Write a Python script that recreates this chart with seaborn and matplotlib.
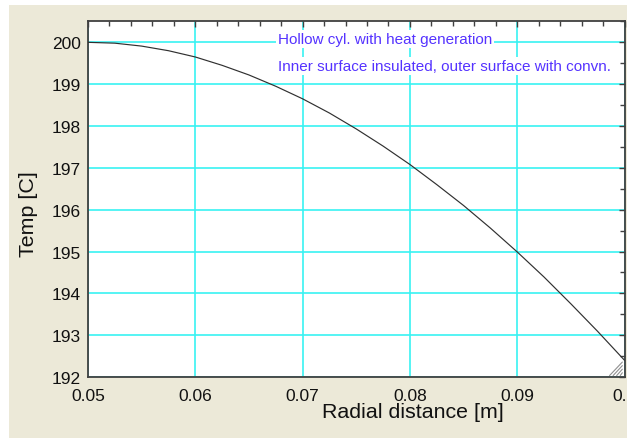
import matplotlib
matplotlib.use("Agg")
import matplotlib.pyplot as plt
from matplotlib.patches import Rectangle
from matplotlib.ticker import MultipleLocator
import seaborn as sns
import pandas as pd

radius = [0.05, 0.0525, 0.055, 0.0575, 0.06, 0.0625, 0.065, 0.0675, 0.07,
          0.0725, 0.075, 0.0775, 0.08, 0.0825, 0.085, 0.0875, 0.09,
          0.0925, 0.095, 0.0975, 0.1]
temp = [200.00, 199.98, 199.91, 199.80, 199.65, 199.45, 199.22, 198.95, 198.65,
        198.31, 197.93, 197.52, 197.08, 196.60, 196.10, 195.56, 194.99,
        194.39, 193.75, 193.09, 192.40]
xticks = [0.05, 0.06, 0.07, 0.08, 0.09, 0.1]
xticklabels = ["0.05", "0.06", "0.07", "0.08", "0.09", "0.1"]
yticks = [192, 193, 194, 195, 196, 197, 198, 199, 200]
note1 = "Hollow cyl. with heat generation"
note2 = "Inner surface insulated, outer surface with convn."

df = pd.DataFrame({"r": radius, "T": temp})

sns.set_style("white")
plt.rcParams["font.family"] = ["Liberation Sans", "DejaVu Sans"]

W, H = 627, 439
fig = plt.figure(figsize=(W / 100, H / 100), dpi=100, facecolor="white")
fig.patches.append(Rectangle((8.5 / W, 0), 1, 1 - 5.5 / H, transform=fig.transFigure,
                             facecolor="#ECE9D8", edgecolor="none", zorder=-10))
ax = fig.add_axes([88 / W, 1 - 378 / H, (624.5 - 88) / W, (378 - 22) / H])
ax.set_facecolor("white")

sns.lineplot(data=df, x="r", y="T", ax=ax, color="#303030", lw=0.85, zorder=3)

ax.set_xlim(0.05, 0.1)
ax.set_ylim(192, 200.51)
ax.set_xticks(xticks)
ax.set_xticklabels(xticklabels)
ax.set_yticks(yticks)
ax.xaxis.set_minor_locator(MultipleLocator(0.002))
ax.yaxis.set_minor_locator(MultipleLocator(0.5))

ax.grid(True, which="major", color="#38f2f2", lw=1.2, zorder=0)
ax.set_axisbelow(True)

for s in ax.spines.values():
    s.set_visible(True)
    s.set_color("#404040")
    s.set_linewidth(1.3)

ax.tick_params(which="both", direction="in", top=True, right=True,
               color="#404040", width=1.0)
ax.tick_params(which="major", length=4)
ax.tick_params(which="minor", length=3.5)
ax.tick_params(axis="x", which="major", labelsize=12.5, pad=8, labelcolor="#111111")
ax.tick_params(axis="y", which="major", labelsize=12.5, pad=5, labelcolor="#111111")

ax.set_xlabel("Radial distance [m]", fontsize=15.4, color="#111111", va="center")
ax.xaxis.set_label_coords(0.606, -0.098)
ax.set_ylabel("Temp [C]", fontsize=15.4, color="#111111", va="center")
ax.yaxis.set_label_coords(-0.11, 0.46)

txtcol = "#5533ff"
bb = dict(facecolor="white", edgecolor="none", pad=1.5)
ax.text(0.0677, 200.08, note1, color=txtcol, fontsize=11, ha="left", va="center",
        bbox=bb, zorder=4)
ax.text(0.0677, 199.43, note2, color=txtcol, fontsize=11, ha="left", va="center",
        bbox=bb, zorder=4)

# resize grip decoration
for k in range(4):
    d = 0.012 + k * 0.01
    ax.plot([1 - d * 356 / 536.5, 1 - 0.004], [0.004, d], transform=ax.transAxes,
            color="#909090", lw=0.8, clip_on=False, zorder=5)

fig.savefig("out.png", dpi=100, facecolor=fig.get_facecolor())
